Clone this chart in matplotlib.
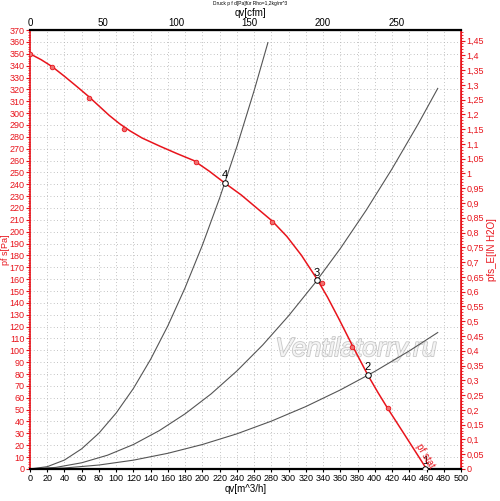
import matplotlib
matplotlib.use("Agg")
import matplotlib.pyplot as plt
import matplotlib.patheffects as pe
from matplotlib.ticker import MultipleLocator, FuncFormatter

plt.rcParams['font.family'] = ['Liberation Sans', 'DejaVu Sans']

# fan curve pf stat [Pa] over qv [m^3/h]
fan_q = [0, 13, 26, 40, 55, 68, 80, 92, 104, 116, 130, 151, 170, 190, 208, 226,
         245, 263, 281, 298, 315, 333, 345, 358, 374, 392, 404, 415, 438, 460]
fan_p = [350, 345, 339, 331, 322, 314, 306, 298, 291, 285, 279, 272, 266, 260, 251, 241,
         231, 220, 209, 196, 180, 160, 145, 127, 104, 79, 64, 51, 25, 0]

# measured points (red markers)
meas_q = [0, 26, 68, 109, 193, 281, 339, 374, 415]
meas_p = [350, 339, 313, 287, 259, 208, 157, 103, 51]

# operating points 1..4
op_q = [458, 392, 333, 226]
op_p = [0, 79, 159, 241]
op_lbl = ['1', '2', '3', '4']

# system curves (gray)
sysA_q = [0, 20, 40, 60, 80, 100, 120, 140, 160, 180, 200, 220, 240, 260, 276]
sysA_p = [0, 1.9, 7.5, 17, 30.2, 47.2, 67.9, 92.5, 120.8, 152.9, 188.7, 228.4, 271.8, 318.9, 359.4]
sysB_q = [0, 30, 60, 90, 120, 150, 180, 210, 240, 270, 300, 330, 360, 390, 420, 450, 473]
sysB_p = [0, 1.3, 5.2, 11.6, 20.6, 32.3, 46.5, 63.2, 82.6, 104.5, 129.1, 156.2, 185.8, 218.1, 253, 290.4, 320.8]
sysC_q = [0, 40, 80, 120, 160, 200, 240, 280, 320, 360, 400, 440, 473]
sysC_p = [0, 0.8, 3.3, 7.4, 13.2, 20.6, 29.6, 40.3, 52.6, 66.6, 82.2, 99.5, 115]

RED = '#e8141c'
M3H_PER_CFM = 1.699
PA_PER_INH2O = 249.089

fig = plt.figure(figsize=(5.0, 5.01), dpi=100)
ax = fig.add_axes([0.06, 0.064, 0.862, 0.876])
ax.set_xlim(0, 500)
ax.set_ylim(0, 370)

ax.xaxis.set_major_locator(MultipleLocator(20))
ax.yaxis.set_major_locator(MultipleLocator(10))
ax.yaxis.set_minor_locator(MultipleLocator(2))
ax.grid(True, which='major', color='#b0b0b0', linestyle=(0, (1, 3)), linewidth=0.6)

for q, p in [(sysA_q, sysA_p), (sysB_q, sysB_p), (sysC_q, sysC_p)]:
    ax.plot(q, p, color='#555555', linewidth=0.8, zorder=2)

ax.plot(fan_q, fan_p, color=RED, linewidth=1.1, zorder=3)
ax.plot(meas_q, meas_p, 'o', markersize=3.3, markerfacecolor='#f07070',
        markeredgecolor=RED, markeredgewidth=0.6, linestyle='none', zorder=4)
ax.plot(op_q, op_p, 'o', markersize=4, markerfacecolor='white',
        markeredgecolor='black', markeredgewidth=0.7, linestyle='none', zorder=5)
for q, p, t in zip(op_q, op_p, op_lbl):
    ax.annotate(t, (q, p), xytext=(0, 2), textcoords='offset points',
                ha='center', va='bottom', fontsize=8, zorder=6)

ax.text(459, 11, 'pf stat', color=RED, fontsize=7, rotation=-59,
        ha='center', va='center', zorder=6)
ax.text(378, 101, 'Ventilatorry.ru', color='#f4f4f4', fontsize=19,
        style='italic', ha='center', va='center', zorder=1,
        path_effects=[pe.withStroke(linewidth=1.2, foreground='#c8c8c8')])

# spines & ticks
for s in ['top', 'bottom']:
    ax.spines[s].set_linewidth(1.6)
    ax.spines[s].set_color('black')
ax.spines['left'].set_color(RED)
ax.spines['left'].set_linewidth(1.2)
ax.spines['right'].set_color(RED)
ax.spines['right'].set_linewidth(1.2)

ax.tick_params(axis='x', labelsize=6.5, length=2, pad=1.5, colors='black')
ax.tick_params(axis='y', which='major', labelsize=6.5, length=3, pad=1,
               colors=RED, labelcolor=RED)
ax.tick_params(axis='y', which='minor', length=1.5, colors=RED)
ax.set_xlabel('qv[m^3/h]', fontsize=7, labelpad=1)
fig.text(5.5 / 500, 1 - 250 / 501, 'pf s[Pa]', fontsize=6.5, color=RED,
         rotation=90, ha='center', va='center')

# top axis in cfm
axt = ax.secondary_xaxis('top', functions=(lambda v: v / M3H_PER_CFM, lambda v: v * M3H_PER_CFM))
axt.xaxis.set_major_locator(MultipleLocator(50))
axt.xaxis.set_minor_locator(MultipleLocator(10))
axt.tick_params(which='major', labelsize=7, length=1, pad=0.5)
axt.tick_params(which='minor', length=0)
fig.text(0.5, 1 - 13 / 501, 'qv[cfm]', fontsize=7, ha='center', va='center')

# right axis in in H2O
axr = ax.secondary_yaxis('right', functions=(lambda v: v / PA_PER_INH2O, lambda v: v * PA_PER_INH2O))
axr.yaxis.set_major_locator(MultipleLocator(0.05))
axr.yaxis.set_minor_locator(MultipleLocator(0.01))
axr.yaxis.set_major_formatter(FuncFormatter(lambda v, _: ('%g' % round(v, 2)).replace('.', ',')))
axr.tick_params(which='major', labelsize=6.5, length=3, pad=1, colors=RED, labelcolor=RED)
axr.tick_params(which='minor', length=1.5, colors=RED)
axr.spines['right'].set_color(RED)
axr.set_ylabel('pfs_E[IN H2O]', fontsize=7, color=RED, labelpad=2)

fig.text(0.5, 1 - 4 / 501, 'Druck p f d[Pa]für Rho=1,2kg/m^3', fontsize=3.5,
         ha='center', va='center')

fig.savefig('out.png', dpi=100)
